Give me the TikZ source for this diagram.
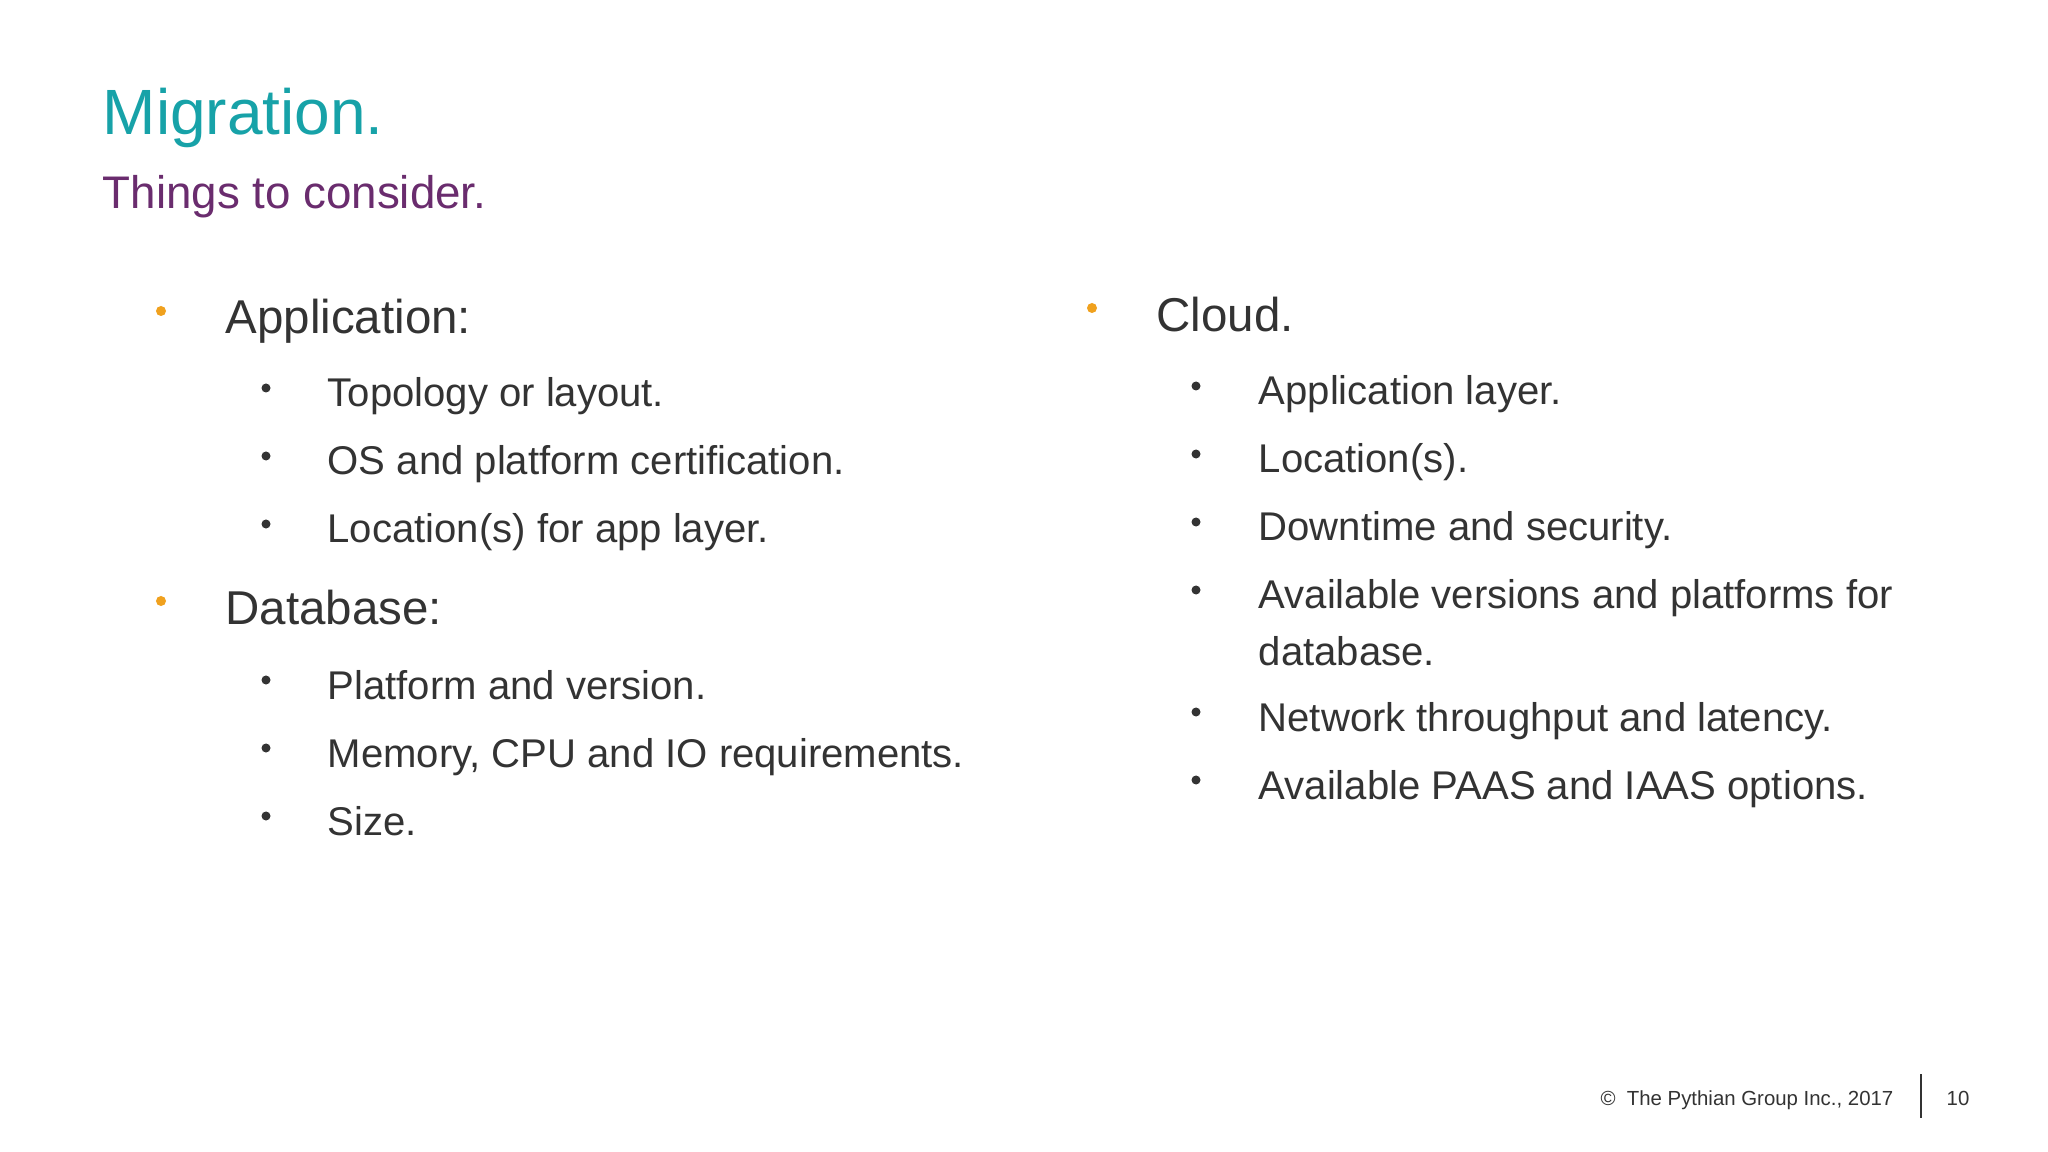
\documentclass[tikz,border=0pt]{standalone}
\usepackage{fontspec}
\setmainfont{Liberation Sans}
\definecolor{teal1}{HTML}{17A2A8}
\definecolor{purp}{HTML}{6A2C6E}
\definecolor{orng}{HTML}{F0A11E}
\definecolor{txt}{HTML}{333333}
\begin{document}
\begin{tikzpicture}[x=0.01cm,y=-0.01cm,
  every node/.style={inner sep=0,anchor=base west,text=txt},
  lone/.style={font=\fontsize{13.5pt}{16pt}\selectfont},
  ltwo/.style={font=\fontsize{11.4pt}{14pt}\selectfont},
  obul/.style={fill=orng,circle,minimum size=0.1cm,anchor=center},
  kbul/.style={fill=txt,circle,minimum size=0.09cm,anchor=center}]
\useasboundingbox[fill=white] (0,0) rectangle (2048,1152);
\node[text=teal1,font=\fontsize{18.2pt}{20pt}\selectfont] (t) at (102,135) {Migration.};
\node[text=purp,font=\fontsize{13pt}{15pt}\selectfont] (s) at (102,209) {Things to consider.};
% left column
\node[obul] (b1) at (161,311) {};
\node[lone] (a) at (225,334) {Application:};
\foreach \y/\t [count=\i] in {407/Topology or layout.,475/OS and platform certification.,543/Location(s) for app layer.}{
  \node[kbul] (ab\i) at (266,\y-19) {};
  \node[ltwo] (at\i) at (327,\y) {\t};}
\node[obul] (b2) at (161,601) {};
\node[lone] (d) at (225,624) {Database:};
\foreach \y/\t [count=\i] in {699/Platform and version.,767/{Memory, CPU and IO requirements.},835/Size.}{
  \node[kbul] (db\i) at (266,\y-19) {};
  \node[ltwo] (dt\i) at (327,\y) {\t};}
% right column
\node[obul] (b3) at (1092,308) {};
\node[lone] (c) at (1156,332) {Cloud.};
\foreach \y/\t [count=\i] in {405/Application layer.,473/Location(s).,541/Downtime and security.,609/Available versions and platforms for,731/Network throughput and latency.,799/Available PAAS and IAAS options.}{
  \node[kbul] (cb\i) at (1196,\y-19) {};
  \node[ltwo] (ct\i) at (1258,\y) {\t};}
\node[ltwo] (ct4b) at (1258,666) {database.};
% footer
\node[anchor=base east,font=\fontsize{5.8pt}{7pt}\selectfont] (f) at (1894,1105) {©\ \ The Pythian Group Inc., 2017};
\coordinate (l1) at (1921,1074); \coordinate (l2) at (1921,1118);
\draw[txt,line width=0.6pt] (l1) -- (l2);
\node[anchor=base,font=\fontsize{5.8pt}{7pt}\selectfont] (n) at (1958,1105) {10};
\end{tikzpicture}
\end{document}
